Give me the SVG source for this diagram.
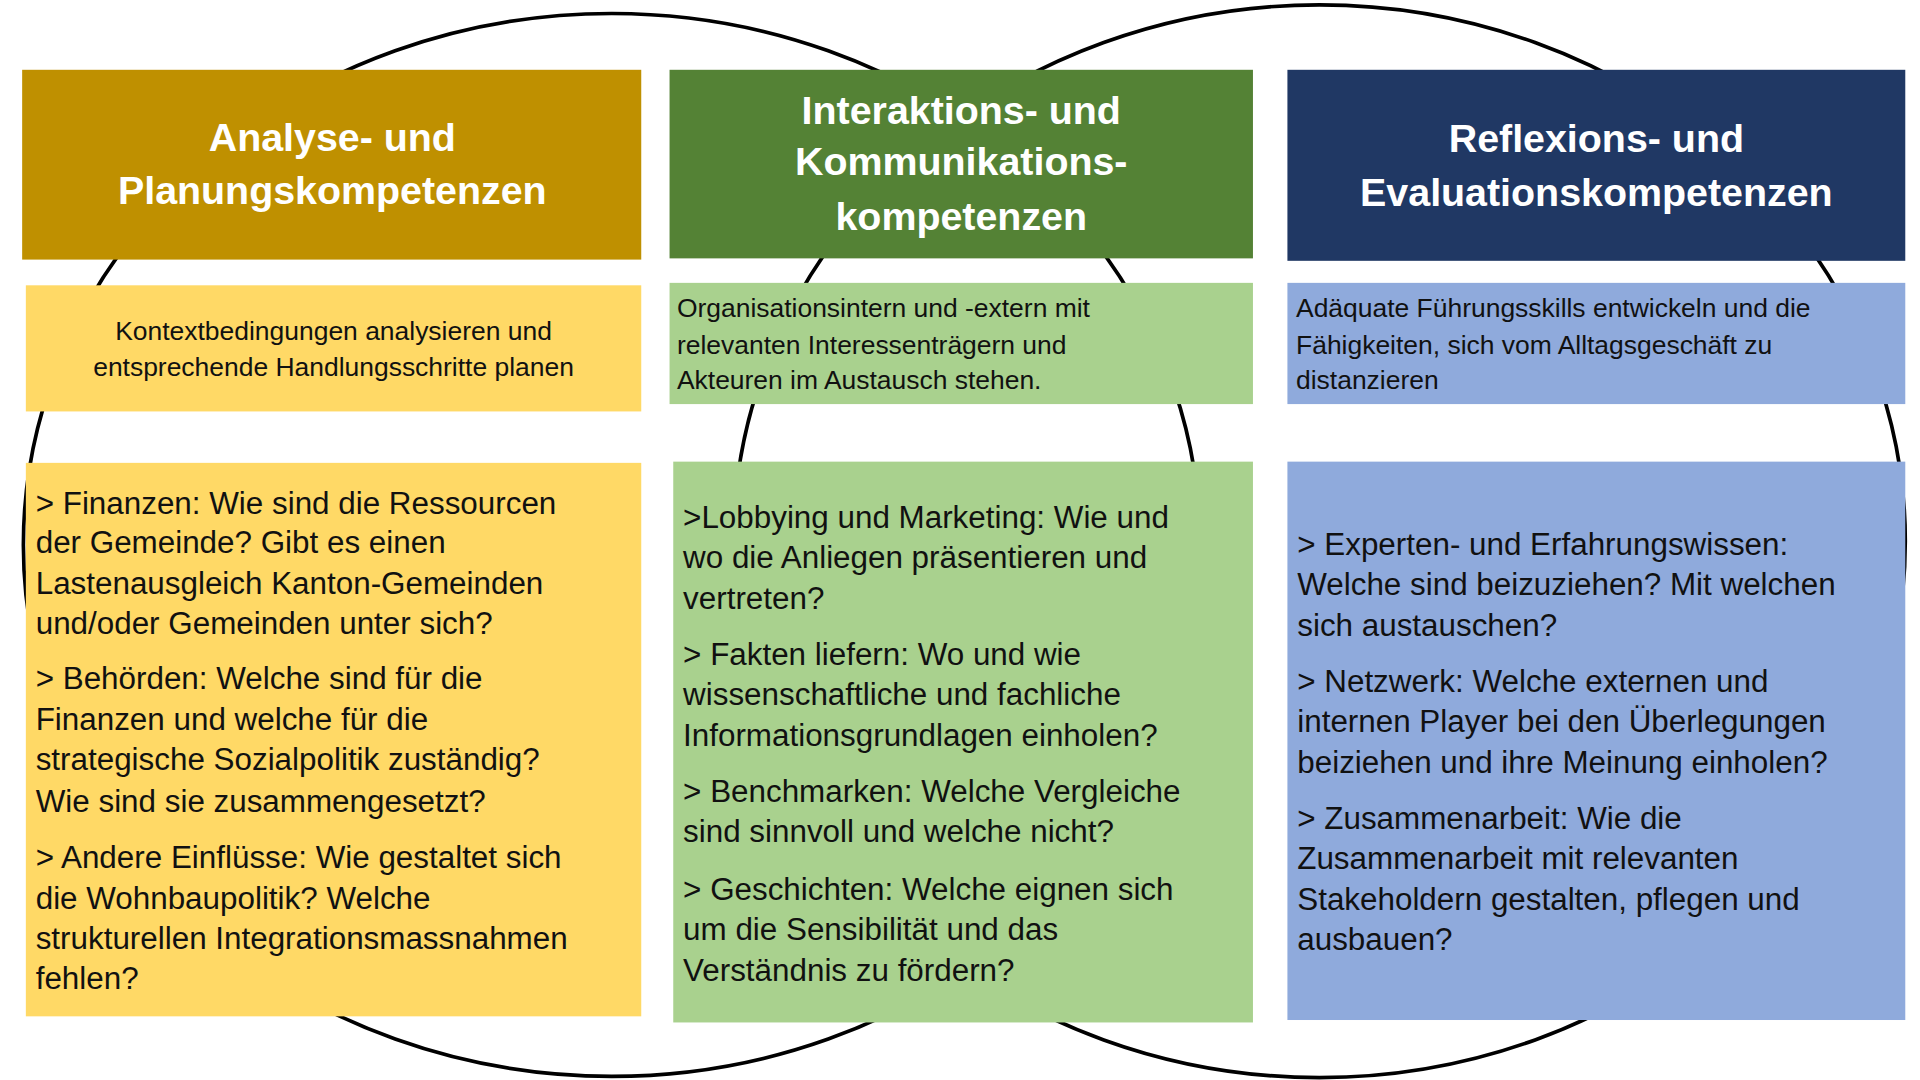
<svg xmlns="http://www.w3.org/2000/svg" width="1920" height="1080" viewBox="0 0 1920 1080">
<style>
.h{font-family:"Liberation Sans",Arial,sans-serif;font-weight:bold;font-size:32px;fill:#fff;text-anchor:middle}
.s{font-family:"Liberation Sans",Arial,sans-serif;font-size:21.5px;fill:#111}
.b{font-family:"Liberation Sans",Arial,sans-serif;font-size:25.5px;fill:#111}
.e{fill:none;stroke:#000;stroke-width:3}
</style>
<rect width="1920" height="1080" fill="#fff"/>
<g transform="scale(1.2308,1.2245)">
<g id="connectors">
<ellipse class="e" cx="497" cy="445" rx="478" ry="434"/>
<ellipse class="e" cx="1072" cy="442" rx="476" ry="438"/>
</g>
<g id="col1">
<rect x="18" y="57" width="503" height="155" fill="#BF9000"/>
<text class="h" x="270" y="123">Analyse- und</text>
<text class="h" x="270" y="167">Planungskompetenzen</text>
<rect x="21" y="233" width="500" height="103" fill="#FFD966"/>
<text class="s" x="271" y="278" text-anchor="middle">Kontextbedingungen analysieren und</text>
<text class="s" x="271" y="307" text-anchor="middle">entsprechende Handlungsschritte planen</text>
<rect x="21" y="378" width="500" height="452" fill="#FFD966"/>
<text class="b" x="29" y="420">&gt; Finanzen: Wie sind die  Ressourcen</text>
<text class="b" x="29" y="452">der Gemeinde? Gibt es einen</text>
<text class="b" x="29" y="485">Lastenausgleich Kanton-Gemeinden</text>
<text class="b" x="29" y="518">und/oder Gemeinden unter sich?</text>
<text class="b" x="29" y="563">&gt; Behörden: Welche sind für die</text>
<text class="b" x="29" y="596">Finanzen und welche für die</text>
<text class="b" x="29" y="629">strategische Sozialpolitik zuständig?</text>
<text class="b" x="29" y="663">Wie sind sie zusammengesetzt?</text>
<text class="b" x="29" y="709">&gt; Andere Einflüsse: Wie gestaltet sich</text>
<text class="b" x="29" y="742">die Wohnbaupolitik? Welche</text>
<text class="b" x="29" y="775">strukturellen Integrationsmassnahmen</text>
<text class="b" x="29" y="808">fehlen?</text>
</g>
<g id="col2">
<rect x="544" y="57" width="474" height="154" fill="#548235"/>
<text class="h" x="781" y="101">Interaktions- und</text>
<text class="h" x="781" y="143">Kommunikations-</text>
<text class="h" x="781" y="188">kompetenzen</text>
<rect x="544" y="231" width="474" height="99" fill="#A9D18E"/>
<text class="s" x="550" y="259">Organisationsintern und -extern mit</text>
<text class="s" x="550" y="289">relevanten Interessenträgern und</text>
<text class="s" x="550" y="318">Akteuren im Austausch stehen.</text>
<rect x="547" y="377" width="471" height="458" fill="#A9D18E"/>
<text class="b" x="555" y="431">&gt;Lobbying und Marketing: Wie und</text>
<text class="b" x="555" y="464">wo die Anliegen präsentieren und</text>
<text class="b" x="555" y="497">vertreten?</text>
<text class="b" x="555" y="543">&gt; Fakten liefern: Wo und wie</text>
<text class="b" x="555" y="576">wissenschaftliche und fachliche</text>
<text class="b" x="555" y="609">Informationsgrundlagen einholen?</text>
<text class="b" x="555" y="655">&gt; Benchmarken: Welche Vergleiche</text>
<text class="b" x="555" y="688">sind sinnvoll und welche nicht?</text>
<text class="b" x="555" y="735">&gt; Geschichten: Welche eignen sich</text>
<text class="b" x="555" y="768">um die Sensibilität und das</text>
<text class="b" x="555" y="801">Verständnis zu fördern?</text>
</g>
<g id="col3">
<rect x="1046" y="57" width="502" height="156" fill="#203864"/>
<text class="h" x="1297" y="124">Reflexions- und</text>
<text class="h" x="1297" y="168">Evaluationskompetenzen</text>
<rect x="1046" y="231" width="502" height="99" fill="#8FAADC"/>
<text class="s" x="1053" y="259">Adäquate Führungsskills entwickeln und die</text>
<text class="s" x="1053" y="289">Fähigkeiten, sich vom Alltagsgeschäft zu</text>
<text class="s" x="1053" y="318">distanzieren</text>
<rect x="1046" y="377" width="502" height="456" fill="#8FAADC"/>
<text class="b" x="1054" y="453">&gt; Experten- und Erfahrungswissen:</text>
<text class="b" x="1054" y="486">Welche sind beizuziehen? Mit welchen</text>
<text class="b" x="1054" y="519">sich austauschen?</text>
<text class="b" x="1054" y="565">&gt; Netzwerk: Welche externen und</text>
<text class="b" x="1054" y="598">internen Player bei den Überlegungen</text>
<text class="b" x="1054" y="631">beiziehen und ihre Meinung einholen?</text>
<text class="b" x="1054" y="677">&gt; Zusammenarbeit: Wie die</text>
<text class="b" x="1054" y="710">Zusammenarbeit mit relevanten</text>
<text class="b" x="1054" y="743">Stakeholdern gestalten, pflegen und</text>
<text class="b" x="1054" y="776">ausbauen?</text>
</g>
</g>
</svg>
